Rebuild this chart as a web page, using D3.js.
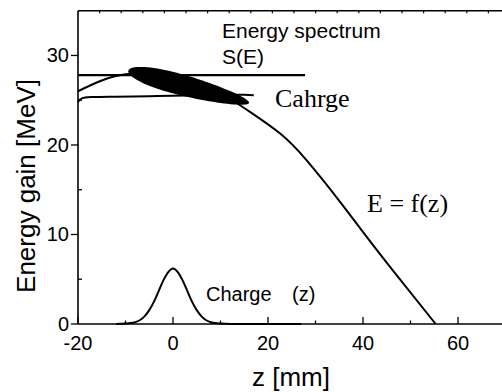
<!DOCTYPE html>
<html>
<head>
<meta charset="utf-8">
<script src="https://cdn.jsdelivr.net/npm/d3@7"></script>
<style>
  body { margin: 0; background: #fff; }
  svg { display: block; }
</style>
</head>
<body>
<div id="chart"></div>
<script>
// energy gain along the bunch, E = f(z)
var fieldZ = [-20, -15, -10, -5, 0, 5, 10, 13, 16.2, 22.5, 28.1, 34.8, 40.1, 46.4, 55.3];
var fieldE = [26.0, 27.2, 27.9, 27.9, 27.4, 26.7, 25.6, 24.8, 23.7, 21.3, 18.3, 13.9, 10.2, 5.9, 0];

// lower branch
var lowZ = [-20, -19.5, -18.5, -17, -12, -5, 0, 5, 10, 15, 17];
var lowE = [24.8, 25.1, 25.3, 25.35, 25.4, 25.45, 25.5, 25.55, 25.6, 25.6, 25.55];

// energy spectrum S(E) line
var specZ = [-20, 27.8];
var specE = [27.8, 27.8];

// charge profile (z)
var chargeZ = [-12, -10, -9, -8, -7, -6, -5, -4, -3, -2, -1, 0, 1, 2, 3, 4, 5, 6, 7, 8, 9, 10, 12, 27];
var chargeQ = [0, 0.05, 0.1, 0.2, 0.42, 0.85, 1.55, 2.5, 3.7, 4.9, 5.8, 6.2, 5.8, 4.9, 3.7, 2.5, 1.55, 0.85, 0.42, 0.2, 0.1, 0.05, 0, 0];

// bunch in phase space: tips of the blob
var bunchZ = [-9.4, 16.0];
var bunchE = [28.3, 24.7];

var xMajor = [-20, 0, 20, 40, 60];
var xMinor = [-10, 10, 30, 50];
var yMajor = [0, 10, 20, 30];
var yMinor = [5, 15, 25];

var width = 502, height = 392;
var margin = {top: 10.7, right: 0, bottom: 68, left: 78};

var x = d3.scaleLinear().domain([-20, 70]).range([margin.left, margin.left + 90 * 4.75]);
var y = d3.scaleLinear().domain([0, 35]).range([height - margin.bottom, margin.top]);
// top frame ticks (own spacing)
var xTop = d3.scaleLinear().domain([0, 20]).range([margin.left, margin.left + 20 * 21.6]);

var svg = d3.select("#chart").append("svg")
    .attr("width", width)
    .attr("height", height)
    .style("font-family", "Arial, 'Liberation Sans', sans-serif");

var line = d3.line()
    .x(function(d) { return x(d[0]); })
    .y(function(d) { return y(d[1]); });

function pairs(a, b) { return a.map(function(v, i) { return [v, b[i]]; }); }

// spectrum line
svg.append("path")
    .datum(pairs(specZ, specE))
    .attr("d", line)
    .attr("fill", "none").attr("stroke", "#000").attr("stroke-width", 2.2);

// lower branch
svg.append("path")
    .datum(pairs(lowZ, lowE))
    .attr("d", line.curve(d3.curveMonotoneX))
    .attr("fill", "none").attr("stroke", "#000").attr("stroke-width", 2);

// E = f(z)
svg.append("path")
    .datum(pairs(fieldZ, fieldE))
    .attr("d", line.curve(d3.curveNatural))
    .attr("fill", "none").attr("stroke", "#000").attr("stroke-width", 2);

// charge
svg.append("path")
    .datum(pairs(chargeZ, chargeQ))
    .attr("d", line.curve(d3.curveMonotoneX))
    .attr("fill", "none").attr("stroke", "#000").attr("stroke-width", 2);

// bunch blob (egg shaped, wider at the head)
var p0 = [x(bunchZ[0]), y(bunchE[0])], p1 = [x(bunchZ[1]), y(bunchE[1])];
var cx = (p0[0] + p1[0]) / 2, cy = (p0[1] + p1[1]) / 2;
var half = Math.hypot(p1[0] - p0[0], p1[1] - p0[1]) / 2;
var ang = Math.atan2(p1[1] - p0[1], p1[0] - p0[0]) * 180 / Math.PI;
var blob = d3.range(0, 361, 4).map(function(t) {
    var r = t * Math.PI / 180;
    return [half * Math.cos(r), 10.2 * Math.sin(r) * (1 - 0.22 * Math.cos(r))];
});
svg.append("path")
    .attr("d", d3.line().curve(d3.curveLinearClosed)(blob))
    .attr("transform", "translate(" + cx + "," + cy + ") rotate(" + ang + ")")
    .attr("fill", "#000");

// axes frame
var axisG = svg.append("g").attr("stroke", "#000").attr("stroke-width", 1.6);
axisG.append("line")
    .attr("x1", x(-20)).attr("x2", width).attr("y1", y(0)).attr("y2", y(0));
axisG.append("line")
    .attr("x1", x(-20)).attr("x2", x(-20)).attr("y1", y(0)).attr("y2", y(35));
axisG.append("line")
    .attr("x1", x(-20)).attr("x2", width).attr("y1", y(35)).attr("y2", y(35));

// bottom ticks point inward
var bottom = svg.append("g");
bottom.selectAll(".maj").data(xMajor).enter().append("line")
    .attr("x1", x).attr("x2", x).attr("y1", y(0)).attr("y2", y(0) - 7)
    .attr("stroke", "#000").attr("stroke-width", 1.3);
bottom.selectAll(".min").data(xMinor).enter().append("line")
    .attr("x1", x).attr("x2", x).attr("y1", y(0)).attr("y2", y(0) - 3.5)
    .attr("stroke", "#000").attr("stroke-width", 1.3);
bottom.selectAll("text").data(xMajor).enter().append("text")
    .attr("x", x).attr("y", y(0) + 26)
    .attr("text-anchor", "middle")
    .style("font-size", "20px")
    .text(function(d) { return d; });

// left ticks
var left = svg.append("g");
left.selectAll(".maj").data(yMajor).enter().append("line")
    .attr("x1", x(-20) - 7).attr("x2", x(-20)).attr("y1", y).attr("y2", y)
    .attr("stroke", "#000").attr("stroke-width", 1.3);
left.selectAll(".min").data(yMinor).enter().append("line")
    .attr("x1", x(-20)).attr("x2", x(-20) + 4).attr("y1", y).attr("y2", y)
    .attr("stroke", "#000").attr("stroke-width", 1.3);
left.selectAll("text").data(yMajor).enter().append("text")
    .attr("x", x(-20) - 9).attr("y", function(d) { return y(d) + 7; })
    .attr("text-anchor", "end")
    .style("font-size", "20px")
    .text(function(d) { return d; });

// top frame ticks
svg.append("g").selectAll("line").data(d3.range(1, 21)).enter().append("line")
    .attr("x1", xTop).attr("x2", xTop).attr("y1", y(35)).attr("y2", y(35) + 2.5)
    .attr("stroke", "#000").attr("stroke-width", 1.2);

// axis titles
svg.append("text")
    .attr("transform", "translate(35," + 186 + ") rotate(-90)")
    .attr("text-anchor", "middle")
    .style("font-size", "26px")
    .text("Energy gain [MeV]");
svg.append("text")
    .attr("x", 291).attr("y", 386)
    .attr("text-anchor", "middle")
    .style("font-size", "26px")
    .text("z [mm]");

// annotations
svg.append("text").attr("x", 222).attr("y", 38).style("font-size", "21px").text("Energy spectrum");
svg.append("text").attr("x", 222).attr("y", 64).style("font-size", "21px").text("S(E)");
svg.append("text").attr("x", 206).attr("y", 301).style("font-size", "20px").text("Charge");
svg.append("text").attr("x", 292).attr("y", 301).style("font-size", "20px").text("(z)");
svg.append("text").attr("x", 275).attr("y", 107)
    .style("font-family", "'Liberation Serif', 'Times New Roman', serif")
    .style("font-size", "26px").text("Cahrge");
svg.append("text").attr("x", 367).attr("y", 212)
    .style("font-family", "'Liberation Serif', 'Times New Roman', serif")
    .style("font-size", "26px").text("E = f(z)");
</script>
</body>
</html>
